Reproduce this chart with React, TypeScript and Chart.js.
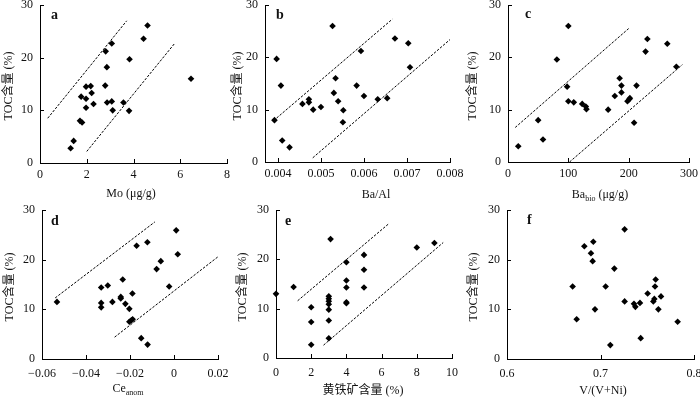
import React, { useEffect, useRef } from "react";
import { Chart, registerables } from "chart.js";

Chart.register(...registerables);

// ---------------- data ----------------
const TOC_AXIS = [0, 30, 10]; // min, max, step
const Y_TITLE = "TOC含量 (%)";

// a: Mo
const MO_AXIS = [0, 8, 2];
const MO_VALUES = [1.31, 1.44, 1.71, 1.8, 1.76, 1.97, 2.17, 1.97, 2.21, 1.97, 2.29, 2.79, 2.81, 2.86, 3.07, 2.87, 3.07, 3.11, 3.57, 3.81, 3.83, 4.43, 4.6, 6.46];
const TOC_A = [2.8, 4.2, 8.0, 7.7, 12.6, 14.5, 14.6, 12.2, 13.3, 10.5, 11.2, 14.7, 21.2, 18.2, 22.7, 11.5, 11.7, 10.0, 11.5, 9.9, 19.7, 23.6, 26.1, 16.0];
const A_UPPER_X = [0.33, 3.71];
const A_UPPER_Y = [8.5, 27.0];
const A_LOWER_X = [2.0, 5.76];
const A_LOWER_Y = [2.2, 22.7];

// b: Ba/Al
const BA_AL_AXIS = [0.0037, 0.008, 0.001];
const BA_AL_VALUES = [0.00392, 0.00397, 0.00407, 0.0041, 0.00427, 0.00457, 0.00472, 0.00472, 0.00482, 0.005, 0.00527, 0.0053, 0.00534, 0.0054, 0.00552, 0.00551, 0.00583, 0.00593, 0.006, 0.00632, 0.00654, 0.00672, 0.00703, 0.00707];
const TOC_B = [8.0, 19.7, 14.6, 4.1, 2.8, 11.1, 12.0, 11.4, 10.0, 10.5, 26.0, 13.2, 16.0, 11.6, 9.9, 7.6, 14.6, 21.2, 12.6, 12.0, 12.2, 23.6, 22.7, 18.1];
const B_UPPER_X = [0.00397, 0.00666];
const B_UPPER_Y = [8.4, 27.3];
const B_LOWER_X = [0.00481, 0.008];
const B_LOWER_Y = [0.8, 23.4];

// c: Ba_bio
const BA_BIO_AXIS = [0, 300, 100];
const BA_BIO_VALUES = [17, 50, 58, 81, 100, 98, 100, 109, 123, 129, 130, 166, 177, 185, 188, 188, 198, 201, 202, 209, 213, 228, 231, 264, 279];
const TOC_C = [3.0, 8.0, 4.3, 19.6, 26.0, 14.4, 11.6, 11.4, 11.1, 10.6, 10.1, 10.0, 12.6, 16.0, 14.6, 13.3, 11.6, 12.0, 12.2, 7.5, 14.6, 21.1, 23.5, 22.6, 18.2];
const C_UPPER_X = [12, 201];
const C_UPPER_Y = [6.6, 25.6];
const C_LOWER_X = [102, 289];
const C_LOWER_Y = [0, 18.6];

// d: Ce_anom
const CE_AXIS = [-0.06, 0.02, 0.02];
const CE_VALUES = [-0.0532, -0.0331, -0.0331, -0.0331, -0.0301, -0.028, -0.0242, -0.0242, -0.0233, -0.0221, -0.0203, -0.0203, -0.0194, -0.0188, -0.0189, -0.017, -0.0149, -0.012, -0.0121, -0.0079, -0.006, -0.0022, 0.001, 0.0017];
const TOC_D = [11.5, 14.4, 11.3, 10.4, 14.8, 11.5, 12.2, 12.5, 16.0, 11.1, 10.1, 7.5, 7.8, 8.0, 13.2, 22.8, 4.2, 2.9, 23.5, 18.1, 19.7, 14.6, 25.9, 21.1];
const D_UPPER_X = [-0.054, -0.0087];
const D_UPPER_Y = [12.3, 27.6];
const D_LOWER_X = [-0.027, 0.0215];
const D_LOWER_Y = [4.4, 21.1];

// e: pyrite content
const PYRITE_AXIS = [0, 10, 2];
const PYRITE_VALUES = [0, 1, 2, 2, 2, 3, 3, 3, 3, 3, 3, 3, 3.1, 4, 4, 4, 4, 4, 5, 5, 5, 8, 9];
const TOC_E = [13.0, 14.4, 10.3, 7.3, 2.7, 12.5, 12.0, 11.5, 10.9, 9.8, 7.6, 4.0, 24.1, 19.4, 15.7, 14.3, 11.3, 11.1, 20.9, 17.9, 14.3, 22.4, 23.3];
const E_UPPER_X = [1.23, 6.4];
const E_UPPER_Y = [11.6, 27.2];
const E_LOWER_X = [2.7, 9.5];
const E_LOWER_Y = [2.6, 23.4];

// f: V/(V+Ni)
const VVNI_AXIS = [0.6, 0.8, 0.1];
const VVNI_VALUES = [0.6702, 0.6745, 0.6827, 0.6898, 0.6923, 0.6916, 0.6941, 0.7055, 0.7105, 0.7148, 0.7258, 0.7258, 0.7358, 0.7373, 0.7422, 0.743, 0.7504, 0.7565, 0.7576, 0.7583, 0.759, 0.7619, 0.7647, 0.7825];
const TOC_F = [14.6, 8.0, 22.7, 21.3, 23.6, 19.7, 10.0, 14.6, 2.8, 18.2, 26.1, 11.6, 11.1, 10.5, 11.3, 4.2, 13.2, 11.6, 12.1, 14.6, 16.0, 10.0, 12.6, 7.5];

// ---------------- styling / layout ----------------
const SERIF = '"Liberation Serif", "Times New Roman", "Noto Sans CJK SC", serif';
const W = 700;
const H = 398;
const M = 40; // extra canvas margin on every side (canvas is offset by -M)
const CW = W + 2 * M;
const CH = H + 2 * M;
const YW = 30;
const XH = 20;

type Seg = { t: string; sub?: boolean };

interface Panel {
  letter: string;
  xs: number[];
  ys: number[];
  upper: [number[], number[]] | null;
  lower: [number[], number[]] | null;
  axis: number[];
  dec: number;
  area: { l: number; r: number; t: number; b: number };
  letterDx: number;
  letterDy: number;
  xTitle: Seg[];
  xTitlePos: [number, number];
  yTitlePos: [number, number];
  tickPad: number;
}

const PANELS: Panel[] = [
  {
    letter: "a", xs: MO_VALUES, ys: TOC_A, upper: [A_UPPER_X, A_UPPER_Y], lower: [A_LOWER_X, A_LOWER_Y],
    axis: MO_AXIS, dec: 0, area: { l: 40, r: 227, t: 5, b: 163 }, letterDx: 11, letterDy: 10,
    xTitle: [{ t: "Mo (μg/g)" }], xTitlePos: [131, 194], yTitlePos: [9, 86], tickPad: 5,
  },
  {
    letter: "b", xs: BA_AL_VALUES, ys: TOC_B, upper: [B_UPPER_X, B_UPPER_Y], lower: [B_LOWER_X, B_LOWER_Y],
    axis: BA_AL_AXIS, dec: 3, area: { l: 265, r: 450, t: 5, b: 162 }, letterDx: 11, letterDy: 10,
    xTitle: [{ t: "Ba/Al" }], xTitlePos: [376, 195], yTitlePos: [238, 86], tickPad: 5,
  },
  {
    letter: "c", xs: BA_BIO_VALUES, ys: TOC_C, upper: [C_UPPER_X, C_UPPER_Y], lower: [C_LOWER_X, C_LOWER_Y],
    axis: BA_BIO_AXIS, dec: 0, area: { l: 508, r: 689, t: 5, b: 162 }, letterDx: 17, letterDy: 9,
    xTitle: [{ t: "Ba" }, { t: "bio", sub: true }, { t: " (μg/g)" }], xTitlePos: [600, 195], yTitlePos: [473, 86], tickPad: 5,
  },
  {
    letter: "d", xs: CE_VALUES, ys: TOC_D, upper: [D_UPPER_X, D_UPPER_Y], lower: [D_LOWER_X, D_LOWER_Y],
    axis: CE_AXIS, dec: 2, area: { l: 42, r: 218, t: 210, b: 359 }, letterDx: 9, letterDy: 11,
    xTitle: [{ t: "Ce" }, { t: "anom", sub: true }], xTitlePos: [128, 389], yTitlePos: [10, 287], tickPad: 8,
  },
  {
    letter: "e", xs: PYRITE_VALUES, ys: TOC_E, upper: [E_UPPER_X, E_UPPER_Y], lower: [E_LOWER_X, E_LOWER_Y],
    axis: PYRITE_AXIS, dec: 0, area: { l: 276, r: 452, t: 210, b: 358 }, letterDx: 9, letterDy: 11,
    xTitle: [{ t: "黄铁矿含量 (%)" }], xTitlePos: [363, 391], yTitlePos: [243, 287], tickPad: 8,
  },
  {
    letter: "f", xs: VVNI_VALUES, ys: TOC_F, upper: null, lower: null,
    axis: VVNI_AXIS, dec: 1, area: { l: 507, r: 694, t: 210, b: 359 }, letterDx: 20, letterDy: 10,
    xTitle: [{ t: "V/(V+Ni)" }], xTitlePos: [603, 391], yTitlePos: [474, 287], tickPad: 8,
  },
];

function fmt(v: number, dec: number): string {
  if (Math.abs(v) < 1e-9) return "0";
  return v.toFixed(dec).replace("-", "−");
}

function drawSegments(ctx: CanvasRenderingContext2D, segs: Seg[], cx: number, cy: number) {
  const main = `12px ${SERIF}`;
  const sub = `8px ${SERIF}`;
  let total = 0;
  const widths = segs.map((s) => {
    ctx.font = s.sub ? sub : main;
    const w = ctx.measureText(s.t).width;
    total += w;
    return w;
  });
  let x = cx - total / 2;
  ctx.textAlign = "left";
  ctx.textBaseline = "middle";
  segs.forEach((s, i) => {
    ctx.font = s.sub ? sub : main;
    ctx.fillText(s.t, x, s.sub ? cy + 4 : cy);
    x += widths[i];
  });
}

const decoPlugin = {
  id: "deco",
  afterDraw(chart: any, _args: any, opts: any) {
    const ctx: CanvasRenderingContext2D = chart.ctx;
    const { left, top, bottom } = chart.chartArea;
    const xs = chart.scales.x;
    const ys = chart.scales.y;
    ctx.save();
    ctx.strokeStyle = "#000";
    ctx.lineWidth = 1;
    ctx.beginPath();
    xs.ticks.forEach((t: any) => {
      const p = Math.round(xs.getPixelForValue(t.value)) + 0.5;
      ctx.moveTo(p, bottom);
      ctx.lineTo(p, bottom - 4);
    });
    ys.ticks.forEach((t: any) => {
      const p = Math.round(ys.getPixelForValue(t.value)) + 0.5;
      ctx.moveTo(left, p);
      ctx.lineTo(left + 4, p);
    });
    ctx.stroke();

    ctx.fillStyle = "#111";
    ctx.font = `bold 14px ${SERIF}`;
    ctx.textAlign = "left";
    ctx.textBaseline = "middle";
    ctx.fillText(opts.letter, left + opts.letterDx, top + opts.letterDy);

    // titles are given in page coordinates; canvas is offset by -M
    drawSegments(ctx, opts.xTitle, opts.xTitlePos[0] + M, opts.xTitlePos[1] + M);

    ctx.translate(opts.yTitlePos[0] + M, opts.yTitlePos[1] + M);
    ctx.rotate(-Math.PI / 2);
    ctx.font = `12px ${SERIF}`;
    ctx.textAlign = "center";
    ctx.textBaseline = "middle";
    ctx.fillText(Y_TITLE, 0, 0);
    ctx.restore();
  },
};

function lineDataset(pair: [number[], number[]]) {
  return {
    type: "scatter" as const,
    data: pair[0].map((x, i) => ({ x, y: pair[1][i] })),
    showLine: true,
    borderColor: "#000",
    borderWidth: 1,
    borderDash: [2.5, 1.5],
    pointRadius: 0,
    fill: false,
  };
}

function PanelChart({ p }: { p: Panel }) {
  const ref = useRef<HTMLCanvasElement | null>(null);
  useEffect(() => {
    if (!ref.current) return;
    const datasets: any[] = [];
    if (p.upper) datasets.push(lineDataset(p.upper));
    if (p.lower) datasets.push(lineDataset(p.lower));
    datasets.push({
      data: p.xs.map((x, i) => ({ x, y: p.ys[i] })),
      pointStyle: "rectRot",
      pointRadius: 3.3,
      pointBackgroundColor: "#000",
      pointBorderWidth: 0,
      borderWidth: 0,
      showLine: false,
      clip: false,
    });
    const tickFont = { family: SERIF, size: 12 };
    const chart = new Chart(ref.current, {
      type: "scatter",
      data: { datasets },
      plugins: [decoPlugin as any],
      options: {
        animation: false,
        responsive: false,
        devicePixelRatio: 1,
        events: [],
        layout: {
          autoPadding: false,
          padding: {
            left: p.area.l + M - YW,
            right: W + M - p.area.r,
            top: p.area.t + M,
            bottom: H + M - p.area.b - XH,
          },
        },
        plugins: {
          legend: { display: false },
          tooltip: { enabled: false },
          deco: {
            letter: p.letter,
            letterDx: p.letterDx,
            letterDy: p.letterDy,
            xTitle: p.xTitle,
            xTitlePos: p.xTitlePos,
            yTitlePos: p.yTitlePos,
          },
        } as any,
        scales: {
          x: {
            type: "linear",
            min: p.axis[0],
            max: p.axis[1],
            grid: { display: false, drawTicks: false },
            border: { display: true, color: "#000", width: 1 },
            ticks: {
              stepSize: p.axis[2],
              includeBounds: false,
              autoSkip: false,
              maxRotation: 0,
              padding: p.tickPad,
              color: "#111",
              font: tickFont,
              callback: (v: any) => fmt(Number(v), p.dec),
            },
            afterFit: (s: any) => {
              s.height = XH;
            },
          },
          y: {
            type: "linear",
            min: TOC_AXIS[0],
            max: TOC_AXIS[1],
            grid: { display: false, drawTicks: false },
            border: { display: true, color: "#000", width: 1 },
            ticks: {
              stepSize: TOC_AXIS[2],
              autoSkip: false,
              padding: 7,
              color: "#111",
              font: tickFont,
              callback: (v: any) => fmt(Number(v), 0),
            },
            afterFit: (s: any) => {
              s.width = YW;
            },
          },
        },
      } as any,
    });
    return () => chart.destroy();
  }, [p]);
  return (
    <canvas
      ref={ref}
      width={CW}
      height={CH}
      style={{ position: "absolute", left: -M, top: -M, width: CW, height: CH }}
    />
  );
}

export default function App() {
  return (
    <div style={{ position: "fixed", left: 0, top: 0, width: W, height: H, background: "#fff", overflow: "hidden" }}>
      {PANELS.map((p) => (
        <PanelChart key={p.letter} p={p} />
      ))}
    </div>
  );
}
